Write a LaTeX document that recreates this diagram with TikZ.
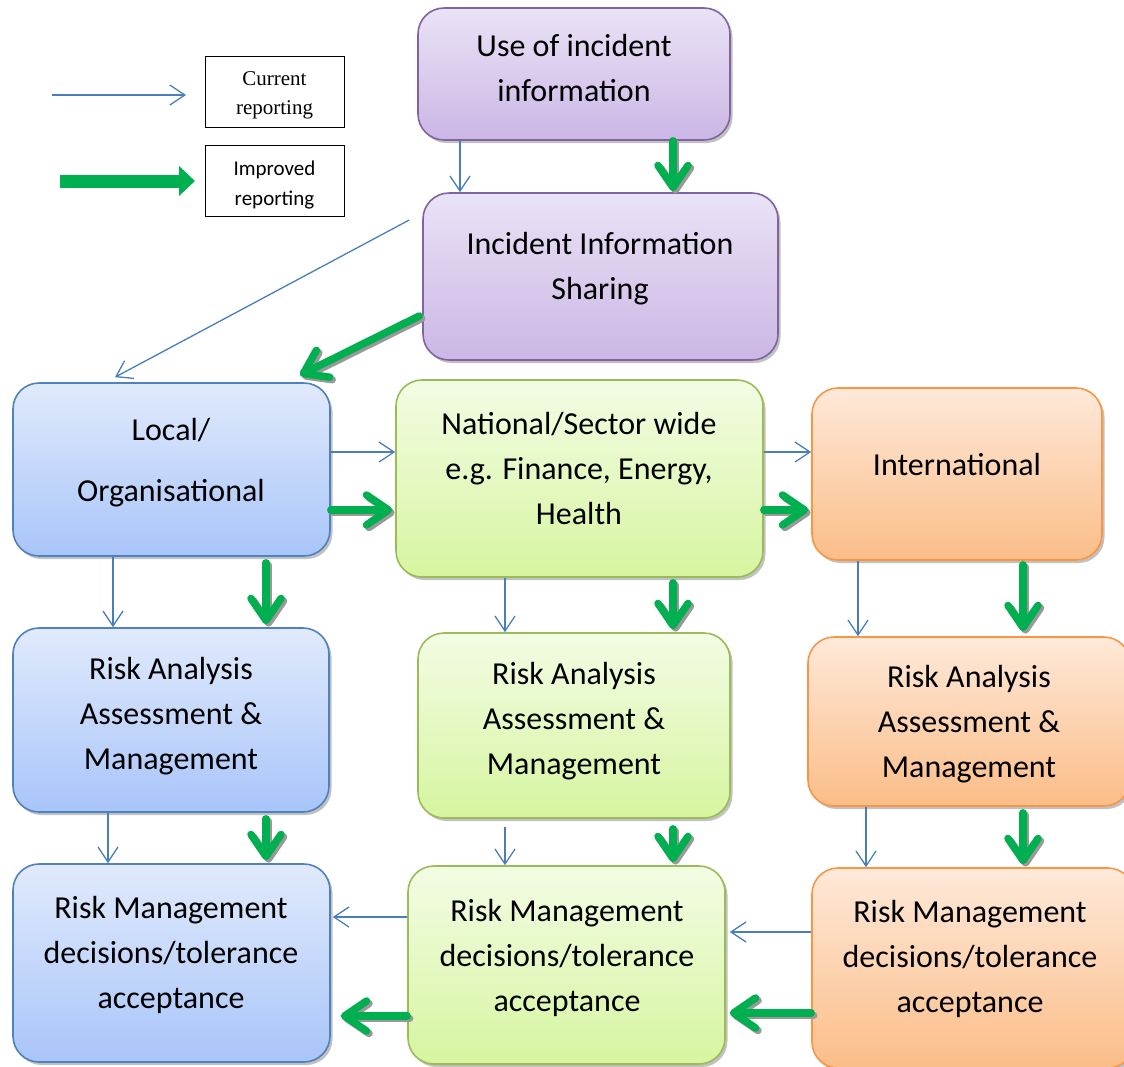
\documentclass[tikz,border=0pt]{standalone}
\usepackage{fontspec}
\setmainfont{Carlito}
\newfontfamily\timesfont{Liberation Serif}
\usetikzlibrary{arrows.meta,shadows}

\definecolor{arrowgreen}{HTML}{00B050}
\definecolor{arrowblue}{HTML}{4A7EBB}
\definecolor{blueedge}{HTML}{4F81BD}
\definecolor{bluetop}{HTML}{E1EAFC}
\definecolor{bluebot}{HTML}{A8C5F9}
\definecolor{greenedge}{HTML}{9BBB59}
\definecolor{greentop}{HTML}{F3FCE4}
\definecolor{greenbot}{HTML}{D6F5A0}
\definecolor{orangeedge}{HTML}{F79646}
\definecolor{orangetop}{HTML}{FEE9D9}
\definecolor{orangebot}{HTML}{FBBD88}
\definecolor{purpleedge}{HTML}{8064A2}
\definecolor{purpletop}{HTML}{EAE3F6}
\definecolor{purplebot}{HTML}{CBB6E5}

\tikzset{
  panel/.style={rectangle, rounded corners=26pt, line width=1.6pt, inner sep=0pt,
    drop shadow={shadow xshift=2.5pt, shadow yshift=-3pt, opacity=0.35, fill=black!70}},
  bluepanel/.style={panel, draw=blueedge, top color=bluetop, bottom color=bluebot},
  greenpanel/.style={panel, draw=greenedge, top color=greentop, bottom color=greenbot},
  orangepanel/.style={panel, draw=orangeedge, top color=orangetop, bottom color=orangebot},
  purplepanel/.style={panel, draw=purpleedge, top color=purpletop, bottom color=purplebot},
  label text/.style={align=center, inner sep=0pt, font=\fontsize{32}{45}\selectfont},
  legbox/.style={draw=black, line width=0.9pt, minimum width=139pt, minimum height=71pt,
    inner sep=0pt},
  legtext/.style={align=center, inner sep=0pt},
  barrow/.style={draw=arrowblue, line width=1.3pt, -{Straight Barb[length=15pt,width=20pt]}},
  gbase/.style={line width=7.5pt, line cap=round,
    -{Straight Barb[round,length=22pt,width=30pt]}},
  garrow/.style={gbase, draw=arrowgreen},
  gshade/.style={gbase, draw=black!40},
}

% an improved-reporting flow: a soft grey copy underneath, then the green arrow
\newcommand\improvedflow[2]{%
  \begin{scope}[transform canvas={shift={(2.5pt,-2.5pt)}}]
    \draw[gshade] #1 -- #2;
  \end{scope}
  \draw[garrow] #1 -- #2;}

\begin{document}
\begin{tikzpicture}[x=1pt,y=-1pt]
\useasboundingbox (0,0) rectangle (1124,1066);
\clip (0,0) rectangle (1124,1066);

% legend
\node[legbox] (cur) at (274.5,91.5) {};
\node[legbox] (imp) at (274.5,181) {};
\node[legtext, font=\timesfont\fontsize{21}{29}\selectfont] (curT) at (274.5,94.5) {\strut Current\\\strut reporting};
\node[legtext, font=\fontsize{21}{30}\selectfont] (impT) at (274.5,184) {\strut Improved\\\strut reporting};
\coordinate (curA) at (52,95);
\coordinate (curB) at (186,95);
\coordinate (impA) at (60,181);
\coordinate (impB) at (195,181);
\draw[barrow] (curA) -- (curB);
\draw[draw=arrowgreen, line width=13pt, -{Triangle[length=16pt,width=29pt]}] (impA) -- (impB);

% panels
\node[purplepanel, minimum width=312pt, minimum height=132pt] (use)   at (574,74) {};
\node[purplepanel, minimum width=355pt, minimum height=167pt] (share) at (600.5,276.5) {};
\node[bluepanel,   minimum width=317pt, minimum height=173pt] (local) at (171.5,469.5) {};
\node[greenpanel,  minimum width=367pt, minimum height=197pt] (nat)   at (579.5,478.5) {};
\node[orangepanel, minimum width=290pt, minimum height=172pt] (intl)  at (957,474) {};
\node[bluepanel,   minimum width=316pt, minimum height=184pt] (raL)   at (171,720) {};
\node[greenpanel,  minimum width=312pt, minimum height=185pt] (raM)   at (574,725.5) {};
\node[orangepanel, minimum width=322pt, minimum height=169pt] (raR)   at (969,721.5) {};
\node[bluepanel,   minimum width=317pt, minimum height=198pt] (rmL)   at (171.5,963) {};
\node[greenpanel,  minimum width=317pt, minimum height=198pt] (rmM)   at (566.5,965) {};
\node[orangepanel, minimum width=322pt, minimum height=200pt] (rmR)   at (973,968) {};

% panel texts
\node[label text] (useT)   at (574,69.5)  {\strut Use of incident\\\strut information};
\node[label text] (shareT) at (600,268)   {\strut Incident Information\\\strut Sharing};
\node[label text] (localT) at (171,461.5) {\strut Local/\\[16pt]\strut Organisational};
\node[label text] (natT)   at (579,470)   {\strut National/Sector wide\\\strut e.g. Finance, Energy,\\\strut Health};
\node[label text] (intlT)  at (957,466)   {\strut International};
\node[label text] (raLT)   at (171,715)   {\strut Risk Analysis\\\strut Assessment \&\\\strut Management};
\node[label text] (raMT)   at (574,720)   {\strut Risk Analysis\\\strut Assessment \&\\\strut Management};
\node[label text] (raRT)   at (969,723)   {\strut Risk Analysis\\\strut Assessment \&\\\strut Management};
\node[label text] (rmLT)   at (171,954)   {\strut Risk Management\\\strut decisions/tolerance\\\strut acceptance};
\node[label text] (rmMT)   at (567,957.5) {\strut Risk Management\\\strut decisions/tolerance\\\strut acceptance};
\node[label text] (rmRT)   at (970,958)   {\strut Risk Management\\\strut decisions/tolerance\\\strut acceptance};

% current reporting flows
\draw[barrow] ([xshift=-114pt]use.south) -- ([xshift=-114pt]use.south |- share.north);
\draw[barrow] ([xshift=-13pt,yshift=56.5pt]share.west) -- ([xshift=-56.5pt,yshift=5pt]local.north);
\draw[barrow] ([yshift=17.5pt]local.east) -- ([yshift=17.5pt]local.east -| nat.west);
\draw[barrow] ([yshift=26.5pt]nat.east) -- ([yshift=26.5pt]nat.east -| intl.west);
\draw[barrow] ([xshift=-58.5pt]local.south) -- ([xshift=-58.5pt]local.south |- raL.north);
\draw[barrow] ([xshift=-74.5pt]nat.south) -- ([xshift=-74.5pt]nat.south |- raM.north);
\draw[barrow] ([xshift=-99pt]intl.south) -- ([xshift=-99pt]intl.south |- raR.north);
\draw[barrow] ([xshift=-63pt]raL.south) -- ([xshift=-63pt]raL.south |- rmL.north);
\draw[barrow] ([xshift=-69pt,yshift=-8pt]raM.south) -- ([xshift=-69pt]raM.south |- rmM.north);
\draw[barrow] ([xshift=-103pt]raR.south) -- ([xshift=-103pt]raR.south |- rmR.north);
\draw[barrow] ([yshift=48pt]rmM.west) -- ([yshift=48pt,xshift=2pt]rmM.west -| rmL.east);
\draw[barrow] ([yshift=36pt]rmR.west) -- ([yshift=36pt,xshift=4pt]rmR.west -| rmM.east);

% improved reporting flows
\improvedflow{([xshift=99pt]use.south)}{([xshift=99pt,yshift=1pt]use.south |- share.north)}
\improvedflow{([xshift=-3pt,yshift=-39.5pt]share.west)}{([xshift=128.5pt,yshift=7pt]local.north)}
\improvedflow{([yshift=-40.5pt]local.east)}{([yshift=-40.5pt,xshift=-3pt]local.east -| nat.west)}
\improvedflow{([yshift=-31.5pt]nat.east)}{([yshift=-31.5pt,xshift=-3pt]nat.east -| intl.west)}
\improvedflow{([xshift=94.5pt,yshift=-6pt]local.south)}{([xshift=94.5pt,yshift=3pt]local.south |- raL.north)}
\improvedflow{([xshift=93.5pt,yshift=-5pt]nat.south)}{([xshift=93.5pt,yshift=3pt]nat.south |- raM.north)}
\improvedflow{([xshift=66pt,yshift=-4pt]intl.south)}{([xshift=66pt,yshift=5pt]intl.south |- raR.north)}
\improvedflow{([xshift=95pt,yshift=-6pt]raL.south)}{([xshift=95pt,yshift=3pt]raL.south |- rmL.north)}
\improvedflow{([xshift=99pt,yshift=-10pt]raM.south)}{([xshift=99pt,yshift=3pt]raM.south |- rmM.north)}
\improvedflow{([xshift=54pt,yshift=-6pt]raR.south)}{([xshift=54pt,yshift=3pt]raR.south |- rmR.north)}
\improvedflow{([yshift=-51pt]rmM.west)}{([yshift=-51pt,xshift=10pt]rmM.west -| rmL.east)}
\improvedflow{([yshift=-45pt]rmR.west)}{([yshift=-45pt,xshift=4pt]rmR.west -| rmM.east)}
\end{tikzpicture}
\end{document}
